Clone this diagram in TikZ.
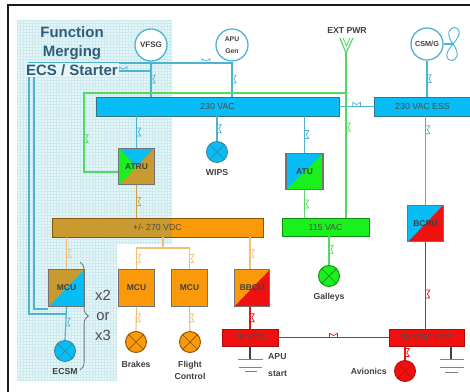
\documentclass[tikz,border=0pt]{standalone}
\usepackage{fontspec}
\setmainfont{Liberation Sans}
\usetikzlibrary{positioning}
\usetikzlibrary{calc}
\usetikzlibrary{decorations.markings}
\usetikzlibrary{decorations.pathreplacing}
\definecolor{acblue}{HTML}{08BCF5}
\definecolor{acline}{HTML}{4CB4D0}
\definecolor{acgreen}{HTML}{19F01E}
\definecolor{greenline}{HTML}{55D860}
\definecolor{dcred}{HTML}{F01010}
\definecolor{dctan}{HTML}{C89A30}
\definecolor{dcorange}{HTML}{FA9A0A}
\definecolor{orangeline}{HTML}{F0C078}
\definecolor{hazeback}{HTML}{E6F5F7}
\definecolor{hazegrid}{HTML}{CDEAEF}
\definecolor{inktitle}{HTML}{2F5C78}
\tikzset{
	lbl/.style={inner sep=0pt,font=\fontsize{7.4}{10.5}\selectfont\bfseries,text=black!75,align=center},
	bustxt/.style={font=\fontsize{7.5}{9}\selectfont,text=black!70},
	bus/.style 2 args={draw=#2,line width=.8pt,inner sep=0pt,minimum width=#1,minimum height=.57cm,bustxt},
	conv/.style={draw=black!55,line width=.9pt,inner sep=0pt,minimum width=1.06cm,minimum height=1.1cm,font=\fontsize{7.2}{9}\selectfont\bfseries,text=black!75},
	halfbox/.style 2 args={conv,fill=#2,path picture={\fill[#1] (path picture bounding box.north west) -- (path picture bounding box.north east) -- (path picture bounding box.south west) -- cycle;}},
	genr/.style={circle,draw=acline,line width=1.1pt,fill=white,inner sep=0pt,minimum size=.96cm,font=\fontsize{6.8}{9}\selectfont\bfseries,text=black!75},
	lamp/.style 2 args={circle,draw=#2,line width=.8pt,fill=#1,inner sep=0pt,minimum size=.63cm,path picture={
		\draw[#2,line width=.6pt] (path picture bounding box.north west) -- (path picture bounding box.south east);
		\draw[#2,line width=.6pt] (path picture bounding box.north east) -- (path picture bounding box.south west);}},
	wire/.style={line width=1pt},
	tap/.style={postaction={decorate},decoration={markings,mark=at position #1 with {
		\draw[line width=.6pt] (-3.4pt,0) -- (-3.4pt,3.6pt) -- (0,1.6pt) -- (3.4pt,3.6pt) -- (3.4pt,0);}}},
}
\begin{document}
\begin{tikzpicture}[x=0.03cm,y=-0.03cm]
	\useasboundingbox (0,0) rectangle (470,392);
	% page frame
	\draw[black!90,line width=1.3pt] (470,5) -- (8,5) -- (8,392);
	% merged function area
	\begin{scope}
		\clip (17,20) -- (172,20) -- (172,244) -- (117,244) -- (117,381) -- (17,381) -- cycle;
		\fill[hazeback] (0,0) rectangle (200,392);
		\foreach \gx in {17,20,...,172} {\draw[hazegrid,line width=.3pt] (\gx,20) -- (\gx,381);}
		\foreach \gy in {20,23,...,381} {\draw[hazegrid,line width=.3pt] (17,\gy) -- (172,\gy);}
	\end{scope}

	% generators
	\node[genr] (vfsg) at (151,45) {VFSG};
	\node[genr,align=center,font=\fontsize{5.8}{10}\selectfont\bfseries] (apugen) at (232,45) {APU\\Gen};
	\node[genr,font=\fontsize{6.2}{9}\selectfont\bfseries] (csmg) at (427,44) {CSM/G};
	\coordinate (fanhub) at (453,44);
	\coordinate (extfork) at (346,53);
	\node[lbl] (extpwr) at (347,31) {EXT PWR};

	% busses
	\node[bus={7.29cm}{black!35!acline},fill=acblue] (bus230) at (217.5,106.5) {230 VAC};
	\node[bus={2.9cm}{black!35!acline},fill=acblue] (bus230ess) at (422.5,106.5) {230 VAC ESS};
	\node[bus={2.61cm}{black!40!acgreen},fill=acgreen,minimum height=.54cm] (bus115) at (325.5,227) {115 VAC};
	\node[bus={6.33cm}{black!45!dcorange},fill=dcorange,path picture={
		\fill[dctan] (path picture bounding box.south west) rectangle ($(path picture bounding box.north west)!.569!(path picture bounding box.north east)$);}] (bus270) at (157.5,227.5) {};
	\node[bustxt] (bus270txt) at (bus270) {+/- 270 VDC};
	\node[bus={1.68cm}{black!30!dcred},fill=dcred,minimum height=.51cm] (bus28) at (250,337.5) {28 VDC};
	\node[bus={2.25cm}{black!30!dcred},fill=dcred,minimum height=.51cm] (bus28ess) at (426.5,337.5) {28 VDC ESS};

	% converters
	\node[conv,fill=dctan,path picture={
		\coordinate (c) at (path picture bounding box.center);
		\fill[acgreen] (path picture bounding box.north west) -- (c) -- (path picture bounding box.south west) -- cycle;
		\fill[acblue] (path picture bounding box.north west) -- (path picture bounding box.north east) -- (c) -- cycle;}] (atru) at (136.5,166.5) {ATRU};
	\node[halfbox={acblue}{acgreen},minimum width=1.11cm] (atu) at (304.5,171.5) {ATU};
	\node[halfbox={acblue}{dcred}] (bcru) at (425.5,223.5) {BCRU};
	\node[halfbox={dctan}{acblue}] (mcuecs) at (66.5,288) {MCU};
	\node[conv,fill=dcorange] (mcubrk) at (136.5,288) {MCU};
	\node[conv,fill=dcorange] (mcufct) at (189.5,288) {MCU};
	\node[halfbox={dcorange}{dcred}] (bbcu) at (252,288) {BBCU};

	% loads
	\node[lamp={acblue}{black!25!acline}] (wips) at (217,152) {};
	\node[lbl,below=5pt of wips] (wipstxt) {WIPS};
	\node[lamp={acgreen}{black!40!acgreen}] (galleys) at (329,276) {};
	\node[lbl,below=5pt of galleys] (galleystxt) {Galleys};
	\node[lamp={acblue}{black!25!acline}] (ecsm) at (65,351) {};
	\node[lbl,below=5pt of ecsm] (ecsmtxt) {ECSM};
	\node[lamp={dcorange}{black!45!dcorange}] (brakes) at (136,342) {};
	\node[lbl,below=6.5pt of brakes] (brakestxt) {Brakes};
	\node[lamp={dcorange}{black!45!dcorange}] (flight) at (190,342) {};
	\node[lbl,below=7pt of flight] (flighttxt) {Flight\\Control};
	\node[lamp={dcred}{black!20!dcred}] (avionics) at (405,371) {};
	\node[lbl,left=6pt of avionics] (avionicstxt) {Avionics};
	\node[lbl,anchor=west] (apustart) at (268,357) {APU};
	\node[lbl,anchor=west] (apustart2) at (268,374) {start};

	% AC side
	\draw[acline,wire,tap=.5] (vfsg) -- (vfsg |- bus230.north);
	\draw[acline,wire,tap=.5] (apugen) -- (apugen |- bus230.north);
	\draw[acline,wire,tap=.5] (csmg) -- (csmg |- bus230ess.north);
	\draw[acline,wire] (csmg.east) -- (fanhub);
	\draw[acline,line width=.8pt] (fanhub) .. controls (437,22) and (473,22) .. (fanhub);
	\draw[acline,line width=.8pt] (fanhub) .. controls (433,66) and (469,66) .. (fanhub);
	\draw[acline,wire,tap=.5] (bus230.east) -- (bus230ess.west);
	\draw[acline,wire,tap=.5] (bus230.south -| atru) -- (atru.north);
	\draw[acline,wire,tap=.5] (wips.north |- bus230.south) -- (wips.north);
	\draw[acline,wire,tap=.5] (bus230.south -| atu) -- (atu.north);
	\draw[acline,wire,tap=.15] (bus230ess.south -| bcru) -- (bcru.north);

	% external power
	\draw[greenline,wire,tap=.45] (extfork) -- (extfork |- bus115.north);
	\draw[greenline,line width=1pt] (340,38) -- (extfork) -- (353,38);
	\draw[greenline,line width=.7pt] (343,38) -- (346.5,46) -- (350,38);
	\draw[greenline,line width=1.3pt,tap=.82] (extfork |- 0,93) -- (84,93) -- (84,172) -- (atru.west |- 0,172);
	\draw[greenline,wire,tap=.5] (atu.south) -- (atu |- bus115.north);
	\draw[greenline,wire,tap=.45] (bus115.south -| galleys) -- (galleys.north);

	% starter feeds
	\draw[acline,wire,tap=.947] (mcuecs.south |- 0,314) -- (29,314) -- (29,63) -- (apugen.south |- 0,63);
	\draw[acline,wire,tap=.924] (mcuecs.west |- 0,309) -- (34,309) -- (34,71) -- (vfsg.south |- 0,71);
	\draw[acline,wire,tap=.45] (mcuecs.south) -- (ecsm.north);

	% DC side
	\draw[dctan!80!orangeline,wire,tap=.5] (atru.south) -- (atru |- bus270.north);
	\draw[orangeline,wire,tap=.5] (bus270.south -| mcuecs) -- (mcuecs.north);
	\draw[orangeline,wire] (bus270.south -| 163,0) -- (163,248);
	\draw[orangeline,wire,tap=.853] (189.5,248) -- (136.5,248) -- (mcubrk.north);
	\draw[orangeline,wire,tap=.5] (189.5,248) -- (mcufct.north);
	\draw[orangeline,wire,tap=.45] (mcubrk.south) -- (brakes.north);
	\draw[orangeline,wire,tap=.45] (mcufct.south) -- (flight.north);
	\draw[orangeline,wire,tap=.5] (bus270.south -| 250,0) -- (bbcu.north -| 250,0);
	\draw[dcred,wire,tap=.5] (bbcu.south -| 250,0) -- (bus28.north);
	\draw[dcred,line width=1.2pt,tap=.5] (bus28.east) -- (bus28ess.west);
	\draw[dcred,line width=1.3pt,tap=.6] (bcru.south) -- (bcru |- bus28ess.north);
	\draw[dcred,wire,tap=.45] (bus28ess.south -| avionics) -- (avionics.north);

	% grounds
	\draw[black!75,wire] (bus28.south) -- (250,359);
	\draw[black!50,line width=.7pt] (238,359) -- (263,359) (239,367) -- (262,367) (245,371) -- (257,371);
	\draw[black!75,wire] (451,346) -- (451,359);
	\draw[black!50,line width=.7pt] (440,359) -- (464,359) (440,367) -- (464,367) (445,372) -- (458,372);

	% brace and multiplier
	\draw[black!55,line width=.7pt,decorate,decoration={brace,amplitude=7pt}] (80,262) -- (80,370);
	\node[inner sep=0pt,align=center,text=black!70,font=\fontsize{12.6}{17}\selectfont] (multi) at (103,315) {x2\\or\\x3};

	% title sits over the feeds
	\node[inner sep=0pt,align=center,text=inktitle,font=\fontsize{12.8}{16}\selectfont\bfseries] (merging) at (72,43) {Function\\Merging};
	\node[inner sep=1pt,fill=hazeback,text=inktitle,font=\fontsize{12.8}{16}\selectfont\bfseries] (ecsstarter) at (72,70) {ECS / Starter};
\end{tikzpicture}
\end{document}
